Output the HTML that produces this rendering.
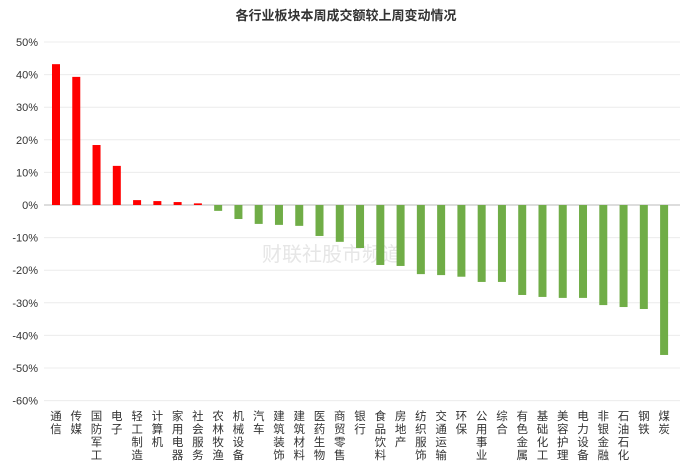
<!DOCTYPE html>
<html><head><meta charset="utf-8"><style>
body{margin:0;background:#fff;}
svg{display:block;font-family:"Liberation Sans","Noto Sans CJK SC",sans-serif;}
</style></head><body>
<svg id="chart" width="692" height="465" viewBox="0 0 692 465">
<text x="346" y="20" text-anchor="middle" font-size="13" font-weight="bold" fill="#333">各行业板块本周成交额较上周变动情况</text>
<text x="262" y="261" font-size="20" fill="#e6e6e6">财联社股市频道</text>
<g id="grid"></g><g id="bars"></g><g id="ylabels"></g><g id="xlabels"></g>
</svg>
<script>
const categories=["通信","传媒","国防军工","电子","轻工制造","计算机","家用电器","社会服务","农林牧渔","机械设备","汽车","建筑装饰","建筑材料","医药生物","商贸零售","银行","食品饮料","房地产","纺织服饰","交通运输","环保","公用事业","综合","有色金属","基础化工","美容护理","电力设备","非银金融","石油石化","钢铁","煤炭"];
const values=[43.2,39.3,18.4,12,1.5,1.2,0.9,0.5,-1.8,-4.3,-5.8,-6.1,-6.4,-9.5,-11.3,-13.2,-18.4,-18.7,-21.2,-21.5,-22,-23.6,-23.6,-27.6,-28.2,-28.5,-28.5,-30.7,-31.3,-31.9,-46];
const ticks=[50,40,30,20,10,0,-10,-20,-30,-40,-50,-60];
const NS="http://www.w3.org/2000/svg";
const y=v=>205-v*3.26;
const x=i=>56+i*20.27;
const g=document.getElementById('grid'),b=document.getElementById('bars'),yl=document.getElementById('ylabels'),xl=document.getElementById('xlabels');
function mk(t,a,p){const e=document.createElementNS(NS,t);for(const k in a)e.setAttribute(k,a[k]);p.appendChild(e);return e;}
ticks.forEach(t=>{
 const l=mk('line',{x1:44,x2:680,y1:y(t),y2:y(t),stroke:t===0?'#bbb':'#ececec','stroke-width':1},g);
 
 
 const tx=mk('text',{x:38,y:y(t)+4,'text-anchor':'end','font-size':11,fill:'#333'},yl);
 tx.textContent=t+'%';
 
 
});
values.forEach((v,i)=>{
 const r=mk('rect',{x:x(i)-4,y:Math.min(y(v),y(0)),width:8,height:Math.abs(y(v)-y(0)),fill:v>=0?'#ff0000':'#70ad47'},b);
 
 
 const t=mk('text',{x:x(i),'text-anchor':'middle','font-size':11.5,fill:'#333'},xl);
 
 
 [...categories[i]].forEach((c,j)=>{const s=mk('tspan',{x:x(i),y:420+j*13},t);s.textContent=c;});
});
</script>
</body></html>
